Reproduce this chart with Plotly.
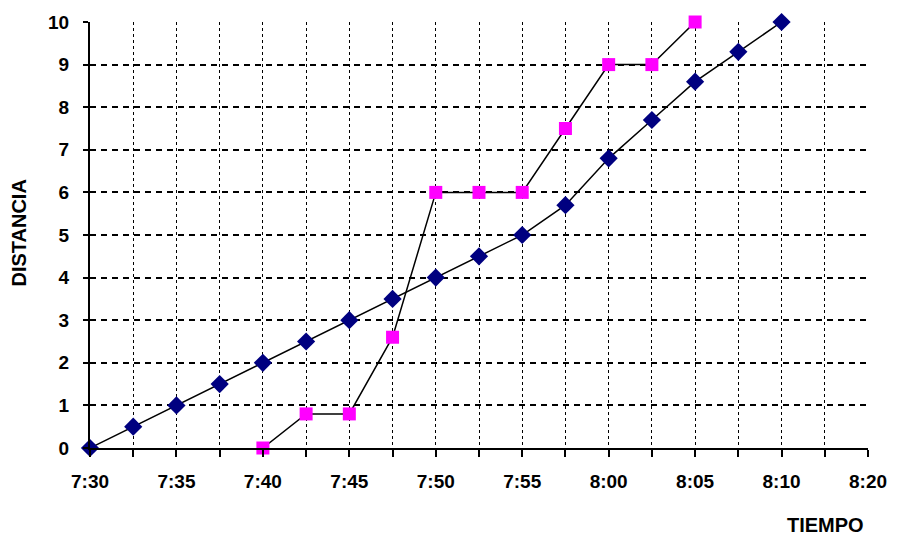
import plotly.graph_objects as go

# minutes after 7:30
t_blue = [0, 2.5, 5, 7.5, 10, 12.5, 15, 17.5, 20, 22.5, 25, 27.5, 30, 32.5, 35, 37.5, 40]
d_blue = [0, 0.5, 1, 1.5, 2, 2.5, 3, 3.5, 4, 4.5, 5, 5.7, 6.8, 7.7, 8.6, 9.3, 10]
t_pink = [10, 12.5, 15, 17.5, 20, 22.5, 25, 27.5, 30, 32.5, 35]
d_pink = [0, 0.8, 0.8, 2.6, 6, 6, 6, 7.5, 9, 9, 10]
x_tickvals = [i * 2.5 for i in range(19)]
x_ticklabels = ["7:30", "", "7:35", "", "7:40", "", "7:45", "", "7:50", "", "7:55", "",
                "8:00", "", "8:05", "", "8:10", "", "8:20"]
y_tickvals = list(range(0, 11))

fig = go.Figure()
fig.add_trace(go.Scatter(x=t_blue, y=d_blue, mode="lines+markers",
                         line=dict(color="black", width=1.5),
                         marker=dict(symbol="diamond", size=14, color="#000080"),
                         showlegend=False, cliponaxis=False))
fig.add_trace(go.Scatter(x=t_pink, y=d_pink, mode="lines+markers",
                         line=dict(color="black", width=1.5),
                         marker=dict(symbol="square", size=13, color="#FF00FF"),
                         showlegend=False, cliponaxis=False))

font = dict(family="Liberation Sans, Arial", size=19, color="black", weight="bold")
tfont = dict(family="Liberation Sans, Arial", size=20, color="black", weight="bold")
fig.update_layout(
    width=899, height=535,
    margin=dict(l=90, r=25, t=20, b=87),
    plot_bgcolor="white", paper_bgcolor="white",
    font=font,
    xaxis=dict(range=[0, 45], tickmode="array", tickvals=x_tickvals, ticktext=x_ticklabels,
               showline=True, linecolor="black", linewidth=2,
               ticks="outside", ticklen=7, tickcolor="black", tickwidth=1.5,
               ticklabelstandoff=8,
               showgrid=True, gridcolor="black", gridwidth=1, griddash="3px,3px",
               zeroline=False, tickfont=font),
    yaxis=dict(range=[0, 10], tickmode="array", tickvals=y_tickvals,
               showline=True, linecolor="black", linewidth=2,
               ticks="outside", ticklen=5, tickcolor="black", tickwidth=1.5,
               ticklabelstandoff=10,
               showgrid=True, gridcolor="black", gridwidth=2, griddash="6px,5px",
               zeroline=False, tickfont=font),
)
pw, ph = 899 - 90 - 25, 535 - 20 - 87
fig.add_annotation(text="DISTANCIA", x=(18 - 90) / pw, y=(535 - 87 - 232) / ph,
                   xref="paper", yref="paper", showarrow=False, textangle=-90,
                   xanchor="center", yanchor="middle", font=tfont)
fig.add_annotation(text="TIEMPO", x=(831 - 90) / pw, y=(535 - 87 - 525) / ph,
                   xref="paper", yref="paper", showarrow=False,
                   xanchor="center", yanchor="middle", font=tfont)
fig.write_html("out.html")
